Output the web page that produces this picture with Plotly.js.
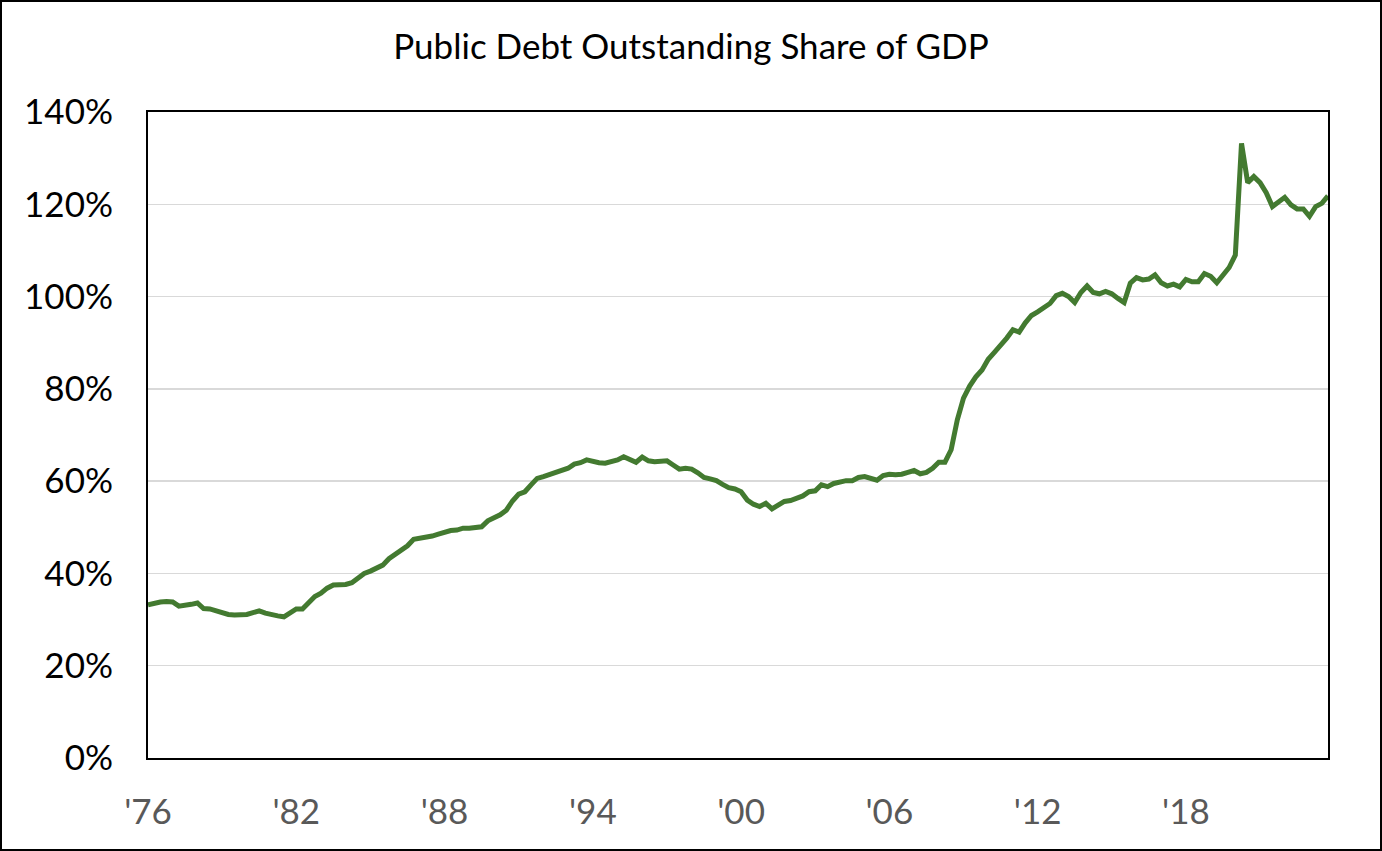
<!DOCTYPE html>
<html>
<head>
<meta charset="utf-8">
<script src="https://cdn.plot.ly/plotly-3.0.1.min.js"></script>
<style>
  html, body { margin: 0; padding: 0; background: #ffffff; }
  #chart { width: 1382px; height: 851px; box-sizing: border-box; border: 2px solid #000000; }
</style>
</head>
<body>
<div id="chart"></div>
<script>
// Quarterly series, 1976 Q1 .. 2023 Q4 (percent of GDP)
const startYear = 1976;
const debtShare = [
  33.2, 33.6, 33.8, 33.9, 33.8, 32.9, 33.0, 33.3, 33.6, 32.4,
  32.3, 31.9, 31.5, 31.1, 31.0, 31.0, 31.1, 31.5, 31.9, 31.4,
  31.0, 30.8, 30.6, 31.4, 32.3, 32.3, 33.7, 35.0, 35.7, 36.8,
  37.5, 37.5, 37.6, 38.0, 38.9, 40.0, 40.5, 41.3, 41.8, 43.2,
  44.1, 45.1, 46.0, 47.4, 47.6, 48.0, 48.1, 48.5, 49.0, 49.3,
  49.4, 49.8, 49.8, 49.9, 50.1, 51.4, 52.0, 52.7, 53.7, 55.7,
  57.2, 57.7, 59.2, 60.6, 61.0, 61.5, 61.9, 62.3, 62.8, 63.7,
  64.0, 64.6, 64.2, 64.0, 63.9, 64.2, 64.6, 65.3, 64.7, 64.1,
  65.2, 64.4, 64.2, 64.2, 64.4, 63.5, 62.6, 62.8, 62.6, 61.8,
  60.8, 60.5, 60.1, 59.3, 58.6, 58.3, 57.7, 55.9, 55.0, 54.5,
  55.2, 54.0, 54.8, 55.6, 55.8, 56.2, 56.8, 57.7, 57.9, 59.2,
  58.8, 59.5, 59.8, 60.1, 60.1, 60.8, 61.0, 60.5, 60.2, 61.2,
  61.5, 61.4, 61.5, 61.9, 62.3, 61.6, 61.9, 62.8, 64.1, 64.1,
  66.8, 73.3, 78.0, 80.6, 82.6, 84.1, 86.4, 87.9, 89.3, 91.0,
  92.8, 92.3, 94.3, 95.9, 96.7, 97.7, 98.5, 100.2, 100.7, 100.0,
  98.7, 100.9, 102.3, 100.9, 100.6, 101.1, 100.6, 99.6, 98.7, 102.9,
  104.1, 103.6, 103.8, 104.7, 103.0, 102.3, 102.7, 102.1, 103.7, 103.2,
  103.2, 105.0, 104.4, 103.0, 104.5, 106.3, 109.0, 133.2, 124.7, 126.0,
  124.7, 122.5, 119.5, 120.6, 121.5, 119.9, 119.0, 119.0, 117.4, 119.5,
  120.2, 121.8
];
const quarterLabels = debtShare.map((_, i) =>
  (startYear + Math.floor(i / 4)) + ' Q' + (i % 4 + 1));
const tickYears = [1976, 1982, 1988, 1994, 2000, 2006, 2012, 2018];
const tickText = ["'76", "'82", "'88", "'94", "'00", "'06", "'12", "'18"];
const tickIdx = tickYears.map(y => (y - startYear) * 4);
const xIdx = debtShare.map((_, i) => i);

const trace = {
  x: xIdx,
  y: debtShare,
  text: quarterLabels,
  type: 'scatter',
  mode: 'lines',
  line: { color: '#437a30', width: 5 },
  hovertemplate: '%{text}: %{y:.1f}%<extra></extra>'
};

const layout = {
  width: 1378,
  height: 847,
  margin: { l: 146, r: 52, t: 110, b: 91 },
  paper_bgcolor: '#ffffff',
  plot_bgcolor: '#ffffff',
  showlegend: false,
  font: { family: 'Lato, "Open Sans", sans-serif', color: '#000000' },
  title: {
    text: 'Public Debt Outstanding Share of GDP',
    font: { family: 'Lato, "Open Sans", sans-serif', size: 35, color: '#000000' },
    x: 0.5, xanchor: 'center',
    y: 0.947, yanchor: 'middle', yref: 'container'
  },
  xaxis: {
    range: [0, debtShare.length - 1],
    tickmode: 'array',
    tickvals: tickIdx,
    ticktext: tickText,
    showgrid: false,
    zeroline: false,
    showline: true, mirror: true, linecolor: '#000000', linewidth: 2,
    ticks: '',
    ticklabelstandoff: 22,
    tickfont: { family: 'Lato, "Open Sans", sans-serif', size: 35, color: '#595959' }
  },
  yaxis: {
    range: [0, 140],
    tickmode: 'linear', tick0: 0, dtick: 20,
    ticksuffix: '%',
    showgrid: true, gridcolor: '#d9d9d9', gridwidth: 1.5,
    zeroline: false,
    showline: true, mirror: true, linecolor: '#000000', linewidth: 2,
    ticks: '',
    ticklabelstandoff: 26,
    tickfont: { family: 'Lato, "Open Sans", sans-serif', size: 35, color: '#000000' }
  }
};

Plotly.newPlot('chart', [trace], layout, { displayModeBar: false, staticPlot: true });
</script>
</body>
</html>
